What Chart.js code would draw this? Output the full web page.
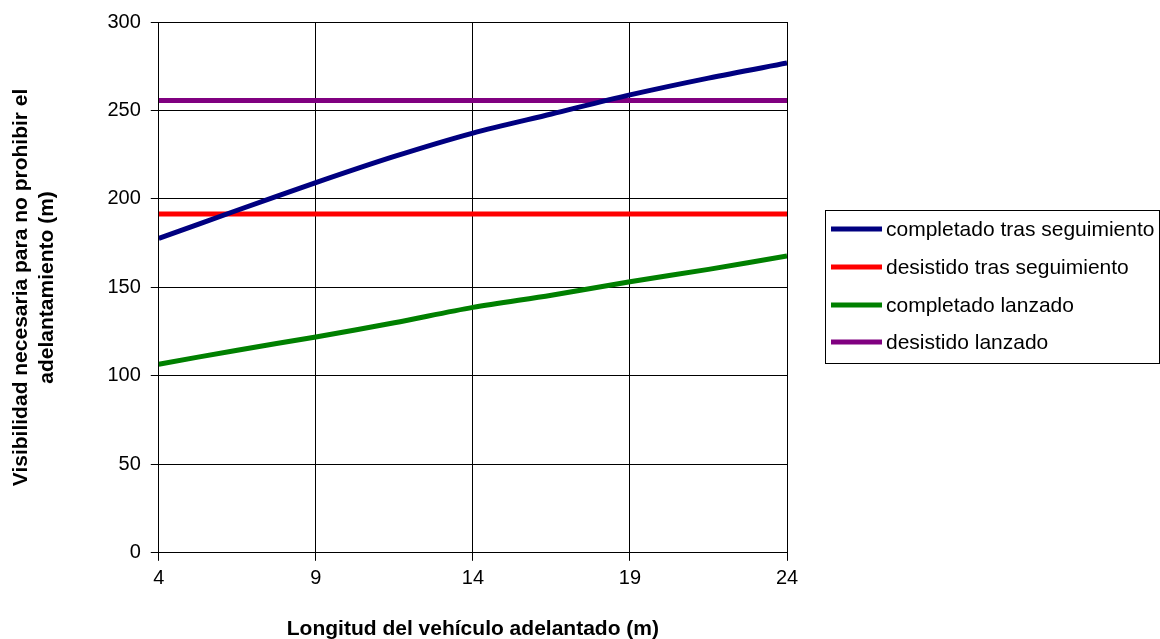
<!DOCTYPE html>
<html>
<head>
<meta charset="utf-8">
<script src="https://cdn.jsdelivr.net/npm/chart.js@4.4.0/dist/chart.umd.min.js"></script>
<style>
  html, body { margin: 0; padding: 0; background: #fff; }
  #wrap { width: 1160px; height: 639px; }
</style>
</head>
<body>
<div id="wrap"><canvas id="chart"></canvas></div>
<script>
// ── Data ───────────────────────────────────────────────────────────
const lengths = [4, 6.5, 9, 11.5, 14, 16.5, 19, 21.5, 24];
const completadoTrasSeguimiento = [177.7, 193.6, 209.2, 224, 237.2, 248, 258.8, 268.3, 276.8];
const desistidoTrasSeguimiento = [191.5, 191.5, 191.5, 191.5, 191.5, 191.5, 191.5, 191.5, 191.5];
const completadoLanzado = [106.6, 114.5, 122, 130, 138.7, 145.6, 153.2, 160.2, 167.7];
const desistidoLanzado = [255.6, 255.6, 255.6, 255.6, 255.6, 255.6, 255.6, 255.6, 255.6];
const yTicks = [0, 50, 100, 150, 200, 250, 300];
const xTicks = [4, 9, 14, 19, 24];

const FONT = 'Liberation Sans, Arial, sans-serif';

function toPoints(values) {
    return lengths.map((x, i) => ({ x, y: values[i] }));
}

function series(label, values, color) {
    return {
        label,
        data: toPoints(values),
        borderColor: color,
        backgroundColor: color,
        borderWidth: 5,
        pointRadius: 0,
        tension: 0.3,
        fill: false,
    };
}

// Boxed legend on the right, drawn the way the spreadsheet does it
const boxedLegend = {
    id: 'boxedLegend',
    afterDraw(chart) {
        const ctx = chart.ctx;
        const box = { left: 825, top: 210, right: 1159, bottom: 363 };
        const rowTop = 229, rowStep = 37.8;
        ctx.save();
        ctx.strokeStyle = '#000';
        ctx.lineWidth = 1;
        ctx.strokeRect(box.left + 0.5, box.top + 0.5, box.right - box.left, box.bottom - box.top);
        ctx.font = '21px ' + FONT;
        ctx.textBaseline = 'middle';
        ctx.fillStyle = '#000';
        chart.data.datasets.forEach((ds, i) => {
            const y = Math.round(rowTop + i * rowStep);
            ctx.strokeStyle = ds.borderColor;
            ctx.lineWidth = ds.borderWidth;
            ctx.beginPath();
            ctx.moveTo(831, y);
            ctx.lineTo(882, y);
            ctx.stroke();
            ctx.fillText(ds.label, 886, y + 1);
        });
        ctx.restore();
    }
};

new Chart(document.getElementById('chart'), {
    type: 'line',
    data: {
        datasets: [
            series('completado tras seguimiento', completadoTrasSeguimiento, '#000080'),
            series('desistido tras seguimiento', desistidoTrasSeguimiento, '#ff0000'),
            series('completado lanzado', completadoLanzado, '#008000'),
            series('desistido lanzado', desistidoLanzado, '#800080'),
        ]
    },
    options: {
        responsive: true,
        maintainAspectRatio: false,
        animation: false,
        layout: { padding: { top: 14, right: 373, bottom: -3, left: 9 } },
        plugins: {
            legend: { display: false },
            tooltip: { enabled: false }
        },
        scales: {
            x: {
                type: 'linear',
                min: 4,
                max: 24,
                afterBuildTicks: axis => { axis.ticks = xTicks.map(v => ({ value: v })); },
                grid: { color: '#000', lineWidth: 1, tickLength: 8, drawTicks: true },
                border: { color: '#000' },
                ticks: { color: '#000', padding: 6, maxRotation: 0, font: { family: FONT, size: 20 } },
                title: {
                    display: true,
                    text: 'Longitud del vehículo adelantado (m)',
                    color: '#000',
                    font: { family: FONT, size: 21, weight: 'bold' },
                    padding: { top: 20, bottom: 0 }
                }
            },
            y: {
                min: 0,
                max: 300,
                afterBuildTicks: axis => { axis.ticks = yTicks.map(v => ({ value: v })); },
                grid: { color: '#000', lineWidth: 1, tickLength: 8, drawTicks: true },
                border: { color: '#000' },
                ticks: { color: '#000', padding: 10, font: { family: FONT, size: 20 } },
                title: {
                    display: true,
                    text: ['Visibilidad necesaria para no prohibir el', 'adelantamiento (m)'],
                    color: '#000',
                    font: { family: FONT, size: 21, weight: 'bold' },
                    padding: { top: 0, bottom: 38 }
                }
            }
        }
    },
    plugins: [boxedLegend]
});
</script>
</body>
</html>
